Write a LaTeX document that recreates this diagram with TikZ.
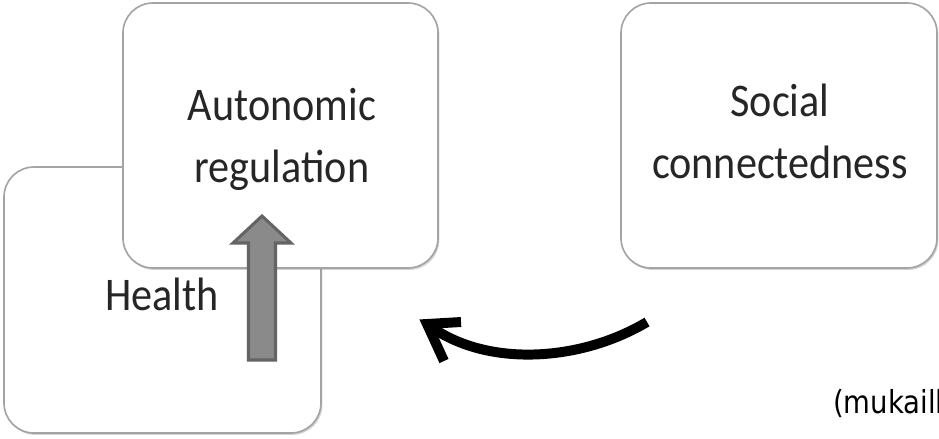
\documentclass[tikz,border=0pt]{standalone}
\usepackage{fontspec}
\setmainfont{Carlito}
\newfontfamily\notefont{DejaVu Sans}
\usetikzlibrary{shadows}
\definecolor{boxline}{HTML}{A4A4A4}
\definecolor{arrowfill}{HTML}{8A8A8A}
\definecolor{arrowline}{HTML}{646464}
\newcommand{\tallstack}[1]{\scalebox{1}[1.11]{\begin{tabular}{@{}c@{}}#1\end{tabular}}}
\begin{document}
\begin{tikzpicture}[x=0.03cm,y=-0.03cm,
  box/.style={draw=boxline, line width=1.4pt, fill=white, rounded corners=0.9cm,
    drop shadow={shadow xshift=1.2pt, shadow yshift=-1.6pt, opacity=0.35},
    inner sep=0pt},
  boxtext/.style={align=center, inner sep=0pt, text=black!85,
    font=\fontsize{36}{48}\selectfont},
  curvearrow/.style={line width=8.5pt, black, line cap=butt},
  barb/.style={line width=8.5pt, black, line cap=butt, line join=miter, miter limit=10},
  uparrow/.style={fill=arrowfill, draw=arrowline, line width=2.6pt, line join=miter}]
\useasboundingbox (0,0) rectangle (939,438);
\clip (0,0) rectangle (939,438);
% Health box (behind)
\node[box, minimum width=9.51cm, minimum height=7.98cm] (health) at (162.5,300) {};
\node[boxtext] (healthtext) at (162,298) {\tallstack{Health}};
% Autonomic regulation box (front)
\node[box, minimum width=9.45cm, minimum height=7.95cm] (auto) at (280.5,135.5) {};
\node[boxtext] (autotext) at (282,139) {\tallstack{Autonomic\\regulation}};
% Social connectedness box
\node[box, minimum width=9.48cm, minimum height=7.95cm] (social) at (779,135.5) {};
\node[boxtext] (socialtext) at (780,135) {\tallstack{Social\\connectedness}};
% gray block arrow from Health up into Autonomic regulation
\coordinate (ua1) at (248.5,360);
\coordinate (ua2) at (275.5,360);
\coordinate (ua3) at (275.5,243);
\coordinate (ua4) at (291,243);
\coordinate (uatip) at (262,216);
\coordinate (ua5) at (233,243);
\coordinate (ua6) at (248.5,243);
\draw[uparrow] (ua1) -- (ua2) -- (ua3) -- (ua4) -- (uatip) -- (ua5) -- (ua6) -- cycle;
% curved black arrow from Social connectedness toward Health
\coordinate (cstart) at (647,322);
\coordinate (ctip) at (427,324);
\coordinate (cbarb1) at (461,322);
\coordinate (cbarb2) at (444,361);
\draw[curvearrow] (cstart) .. controls (580,362) and (485,368) .. (ctip);
\draw[barb] (cbarb1) -- (ctip) -- (cbarb2);
% citation text (cut at the right edge, as in the reference)
\node[anchor=base west, inner sep=0pt, font=\notefont\fontsize{23.5}{28}\selectfont] (cite) at (833,413) {\scalebox{1}[1.15]{(mukaill}};
\end{tikzpicture}
\end{document}
